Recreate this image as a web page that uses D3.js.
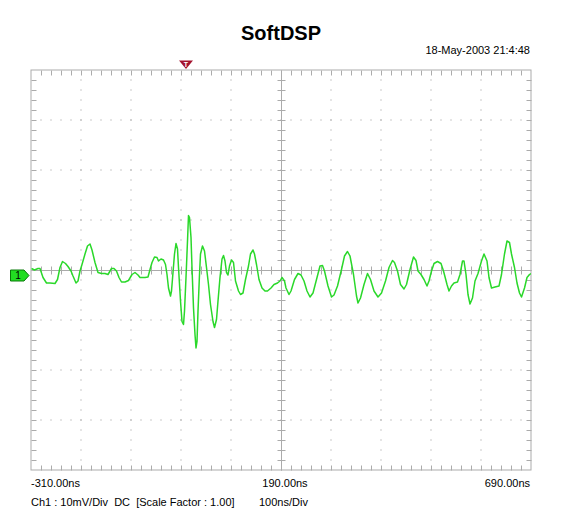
<!DOCTYPE html>
<html>
<head>
<meta charset="utf-8">
<script src="https://cdn.jsdelivr.net/npm/d3@7"></script>
<style>
  body { margin: 0; background: #fff; }
  text { font-family: "Liberation Sans", Arial, sans-serif; }
</style>
</head>
<body>
<script>
var width = 561,
    height = 526;

// time axis (ns) and volts (mV), 100ns/div, 10mV/div
var timeLabels = ["-310.00ns", "190.00ns", "690.00ns"];
var timeDomain = [-310, 690];
var voltDomain = [-40, 40];

// trace: time in ns
var traceTime = [-309,-303,-296,-292,-286,-279,-272,-262,-257,-252,-247,-241,-236,-230,-226,-220,-216,-212,-208,-202,
  -197,-192,-188,-182,-176,-169,-162,-156,-149,-144,-139,-134,-129,-122,-115,-108,-102,-96,-92,-82,
  -76,-72,-68,-63,-58,-55,-50,-45,-41,-38,-35,-31,-29,-26,-23,-20,-17,-15,-11,-8,
  -5,-3,0,3,5,7,10,12,15,18,20,22,24,27,29,33,37,41,45,49,
  54,57,61,64,68,72,75,78,81,84,87,91,95,99,105,109,114,119,125,129,
  134,137,141,146,152,158,163,170,176,183,188,192,197,200,206,210,217,224,230,236,
  242,248,254,261,268,273,277,284,291,296,303,311,317,323,328,335,341,344,349,356,
  363,369,376,384,391,399,406,413,417,423,429,436,441,448,455,460,464,470,476,482,
  486,491,496,503,510,515,522,526,531,536,543,548,553,556,560,564,568,573,578,584,
  591,596,602,606,611,618,626,631,637,642,647,651,657,662,667,671,677,682,687,690];

// trace: value in mV
var traceVolt = [0.3,0,0.3,0.3,-1.5,-2.6,-2.6,-2.7,-1.9,0.5,1.7,1.3,0.7,-0.2,-1.2,-2.6,-2.2,-0.2,1.1,3.2,
  4.8,5.2,4.0,1.5,-0.5,-0.7,-0.7,-0.9,0.3,0.3,-0.2,-1.5,-2.4,-2.4,-2.1,-0.9,-0.5,-1.0,-1.5,-1.5,
  -1.4,0.1,1.5,2.6,2.5,1.8,2.2,2.0,1.1,-0.9,-3.6,-5.2,-4.2,-0.5,3.2,5.3,4.2,0.5,-6.2,-10.3,
  -10.9,-8.2,-1.5,5.8,10.9,10.5,6.5,0.5,-7.6,-12.9,-15.6,-14.3,-8.2,-0.9,3.2,4.8,3.8,0.5,-2.9,-6.9,
  -10.3,-11.5,-9.9,-6.2,-1.5,2.2,2.9,1.8,-0.5,-1.0,0.8,2.0,1.5,-2.2,-4.2,-4.9,-4.6,-1.9,0.8,3.2,
  4.0,3.2,1.1,-1.9,-3.6,-4.2,-4.2,-3.6,-2.9,-2.6,-2.2,-1.5,-2.2,-3.6,-4.9,-4.2,-1.9,-0.7,-1.0,-2.2,
  -4.2,-5.4,-4.6,-1.9,0.8,0.9,-0.2,-3.2,-5.4,-5.0,-3.2,0.1,2.8,3.7,2.8,-0.9,-5.2,-6.6,-5.6,-2.9,
  -0.7,-1.9,-4.2,-5.4,-4.6,-2.2,0.5,1.9,1.5,-0.2,-2.9,-3.8,-2.9,0.1,2.6,1.9,-0.2,-0.9,-1.9,-3.2,
  -2.2,-0.2,1.3,1.7,1.3,-0.2,-2.9,-4.2,-3.2,-2.6,-2.4,-0.9,1.8,1.8,-0.9,-4.9,-6.8,-5.6,-2.2,-0.7,
  1.8,3.2,1.8,-1.5,-3.6,-3.4,-3.2,-0.9,3.2,5.8,5.5,3.2,0.5,-2.6,-4.6,-5.4,-3.6,-1.5,-0.9,-0.7];

var triggerTime = 0;      // trigger marker position (ns)
var channelLevel = -1.1;  // ch1 ground marker (mV)

var x = d3.scaleLinear().domain(timeDomain).range([31, 531]);
var y = d3.scaleLinear().domain(voltDomain).range([470, 70]);

var majorT = d3.range(-310, 691, 100),
    minorT = d3.range(-310, 691, 20),
    majorV = d3.range(-40, 41, 10),
    minorV = d3.range(-40, 41, 2);

var gridColor = "#ababab";

var svg = d3.select("body").append("svg")
    .attr("width", width)
    .attr("height", height);

svg.append("rect")
    .attr("width", width)
    .attr("height", height)
    .attr("fill", "#fff");

// title + date
svg.append("text")
    .attr("x", 281).attr("y", 40)
    .attr("text-anchor", "middle")
    .attr("font-size", 20).attr("font-weight", "bold")
    .text("SoftDSP");

svg.append("text")
    .attr("x", 530).attr("y", 54)
    .attr("text-anchor", "end")
    .attr("font-size", 11)
    .text("18-May-2003 21:4:48");

var grid = svg.append("g");

// dotted major grid lines
majorT.slice(1, -1).forEach(function(t) {
  if (t === 190) return;
  grid.selectAll(null)
    .data(minorV.slice(1, -1))
    .enter().append("rect")
    .attr("x", x(t) - 0.5).attr("y", function(d) { return y(d) - 0.5; })
    .attr("width", 1).attr("height", 1)
    .attr("fill", "#999");
});
majorV.slice(1, -1).forEach(function(v) {
  if (v === 0) return;
  grid.selectAll(null)
    .data(minorT.slice(1, -1))
    .enter().append("rect")
    .attr("x", function(d) { return x(d) - 0.5; }).attr("y", y(v) - 0.5)
    .attr("width", 1).attr("height", 1)
    .attr("fill", "#999");
});

// frame
grid.append("rect")
    .attr("x", x(-310)).attr("y", y(40))
    .attr("width", x(690) - x(-310)).attr("height", y(-40) - y(40))
    .attr("fill", "none").attr("stroke", gridColor);

// edge ticks
var tickLines = [];
minorT.slice(1, -1).forEach(function(t) {
  tickLines.push([x(t), y(40), x(t), y(40) + 5]);
  tickLines.push([x(t), y(-40), x(t), y(-40) - 5]);
  tickLines.push([x(t), y(0) - 4, x(t), y(0) + 4]);
});
minorV.slice(1, -1).forEach(function(v) {
  tickLines.push([x(-310), y(v), x(-310) + 5, y(v)]);
  tickLines.push([x(690), y(v), x(690) - 5, y(v)]);
  tickLines.push([x(190) - 4, y(v), x(190) + 4, y(v)]);
});
// center lines
tickLines.push([x(-310), y(0), x(690), y(0)]);
tickLines.push([x(190), y(40), x(190), y(-40)]);

grid.selectAll("line")
    .data(tickLines)
    .enter().append("line")
    .attr("x1", function(d) { return Math.round(d[0]) + 0.5; })
    .attr("y1", function(d) { return Math.round(d[1]) + 0.5; })
    .attr("x2", function(d) { return Math.round(d[2]) + 0.5; })
    .attr("y2", function(d) { return Math.round(d[3]) + 0.5; })
    .attr("stroke", gridColor)
    .attr("stroke-width", 1);

// trace
svg.append("clipPath").attr("id", "clip")
  .append("rect")
    .attr("x", x(-310)).attr("y", y(40))
    .attr("width", x(690) - x(-310)).attr("height", y(-40) - y(40));

var line = d3.line()
    .x(function(d, i) { return x(traceTime[i]); })
    .y(function(d, i) { return y(traceVolt[i]); });

svg.append("path")
    .datum(traceVolt)
    .attr("clip-path", "url(#clip)")
    .attr("d", line)
    .attr("fill", "none")
    .attr("stroke", "#2ad82a")
    .attr("stroke-width", 1.5)
    .attr("stroke-linejoin", "round");

// trigger marker
var tx = x(triggerTime);
svg.append("path")
    .attr("d", "M" + (tx - 7) + ",60.5L" + (tx + 7) + ",60.5L" + tx + ",69Z")
    .attr("fill", "#a3122e");
svg.append("text")
    .attr("x", tx).attr("y", 66.5)
    .attr("text-anchor", "middle")
    .attr("font-size", 7).attr("font-weight", "bold")
    .attr("fill", "#fff")
    .text("T");

// channel marker
var cy = y(channelLevel);
svg.append("path")
    .attr("d", "M10.5," + (cy - 5.5) + "L24," + (cy - 5.5) + "L29," + cy +
               "L24," + (cy + 5.5) + "L10.5," + (cy + 5.5) + "Z")
    .attr("fill", "#22dd22")
    .attr("stroke", "#0a7a0a")
    .attr("stroke-width", 1);
svg.append("text")
    .attr("x", 18).attr("y", cy + 3.5)
    .attr("text-anchor", "middle")
    .attr("font-size", 10)
    .text("1");

// bottom labels
svg.selectAll(".tl")
    .data(timeLabels)
    .enter().append("text")
    .attr("class", "tl")
    .attr("x", function(d, i) { return x([-310, 190, 690][i]) + [0, 4, -1][i]; })
    .attr("y", 487)
    .attr("text-anchor", function(d, i) { return ["start", "middle", "end"][i]; })
    .attr("font-size", 11)
    .text(function(d) { return d; });

svg.append("text")
    .attr("x", 31).attr("y", 506)
    .attr("font-size", 11)
    .attr("xml:space", "preserve")
    .text("Ch1 : 10mV/Div  DC  [Scale Factor : 1.00]");

svg.append("text")
    .attr("x", 259).attr("y", 506)
    .attr("font-size", 11)
    .text("100ns/Div");
</script>
</body>
</html>
